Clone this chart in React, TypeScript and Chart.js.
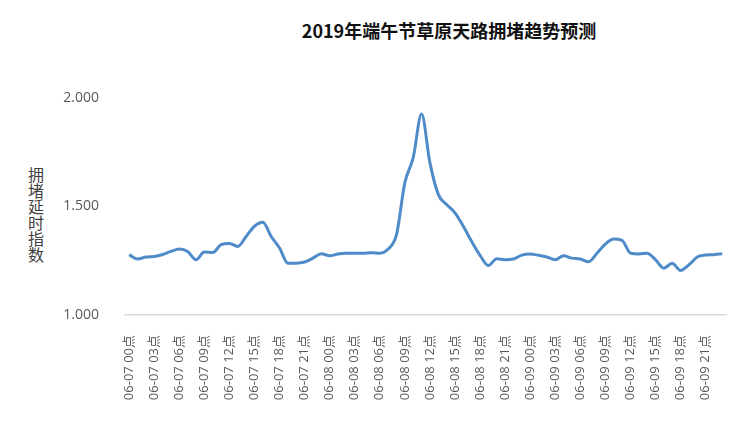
import { useEffect, useRef } from 'react';
import { Chart, registerables } from 'chart.js';

Chart.register(...registerables);

const title = '2019年端午节草原天路拥堵趋势预测';
const yTitle = '拥堵延时指数';
const days = ['06-07', '06-08', '06-09'];
const hours = ['00', '01', '02', '03', '04', '05', '06', '07', '08', '09', '10', '11',
  '12', '13', '14', '15', '16', '17', '18', '19', '20', '21', '22', '23'];
const labels = days.flatMap(d => hours.map(h => `${d} ${h}点`));

// hourly congestion delay index, 06-07 00点 .. 06-09 23点
const delayIndex = [
  1.278, 1.258, 1.267, 1.270, 1.279, 1.293, 1.304, 1.293, 1.255, 1.290, 1.288, 1.324,
  1.330, 1.316, 1.362, 1.409, 1.427, 1.362, 1.309, 1.239, 1.239, 1.244, 1.262, 1.282,
  1.273, 1.281, 1.284, 1.284, 1.284, 1.287, 1.285, 1.304, 1.370, 1.610, 1.725, 1.926,
  1.702, 1.556, 1.509, 1.471, 1.409, 1.339, 1.275, 1.228, 1.259, 1.255, 1.258, 1.276,
  1.281, 1.275, 1.267, 1.255, 1.273, 1.262, 1.258, 1.245, 1.285, 1.327, 1.350, 1.344,
  1.285, 1.281, 1.285, 1.255, 1.216, 1.238, 1.205, 1.231, 1.267, 1.276, 1.278, 1.282,
];
const yTicks = [1.0, 1.5, 2.0];

export default function App() {
  const canvasRef = useRef<HTMLCanvasElement>(null);
  const chart = useRef<Chart | null>(null);

  useEffect(() => {
    if (!canvasRef.current) return;
    chart.current?.destroy();

    chart.current = new Chart(canvasRef.current, {
      type: 'line',
      data: {
        labels,
        datasets: [{
          label: yTitle,
          data: delayIndex,
          borderColor: '#4f8bc9',
          borderWidth: 3,
          pointRadius: 0,
          tension: 0.4,
          cubicInterpolationMode: 'monotone',
          fill: false,
        }],
      },
      options: {
        animation: false,
        responsive: true,
        maintainAspectRatio: false,
        layout: { padding: { top: 98, right: 17, left: 0, bottom: 0 } },
        plugins: { legend: { display: false }, tooltip: { enabled: false } },
        scales: {
          x: {
            offset: true,
            grid: { display: false },
            border: { display: true, color: '#d9d9d9', width: 1.5 },
            afterFit: (s: any) => { s.height = 124; },
            ticks: {
              autoSkip: false, maxRotation: 90, minRotation: 90, padding: 12,
              color: '#595959',
              font: { family: 'Open Sans, Noto Sans CJK SC', size: 13 },
              callback: (_v: any, i: number) => (i % 3 === 0 ? labels[i] : ''),
            },
          },
          y: {
            min: yTicks[0], max: yTicks[yTicks.length - 1],
            grid: { display: false },
            border: { display: false },
            afterFit: (s: any) => { s.width = 125; },
            afterBuildTicks: (s: any) => { s.ticks = yTicks.map(v => ({ value: v })); },
            ticks: {
              padding: 18,
              color: '#595959',
              font: { family: 'Open Sans', size: 14 },
              callback: (v: any) => Number(v).toFixed(3),
            },
          },
        },
      },
    });

    return () => { chart.current?.destroy(); };
  }, []);

  return (
    <div style={{ position: 'fixed', left: 0, top: 0, width: 750, height: 439, background: '#fff' }}>
      <div style={{
        position: 'absolute', left: 449, top: 18, transform: 'translateX(-50%)', whiteSpace: 'nowrap',
        fontFamily: 'Noto Sans CJK SC', fontWeight: 700, fontSize: 18, color: '#111', lineHeight: '24px',
      }}>{title}</div>
      <div style={{
        position: 'absolute', left: 27, top: 166, width: 18, textAlign: 'center',
        fontFamily: 'Noto Sans CJK SC', fontSize: 16, lineHeight: '16px', color: '#404040',
      }}>
        {yTitle.split('').map((c, i) => <div key={i}>{c}</div>)}
      </div>
      <div style={{ position: 'absolute', left: 0, top: 0, width: 750, height: 439 }}>
        <canvas ref={canvasRef} />
      </div>
    </div>
  );
}
